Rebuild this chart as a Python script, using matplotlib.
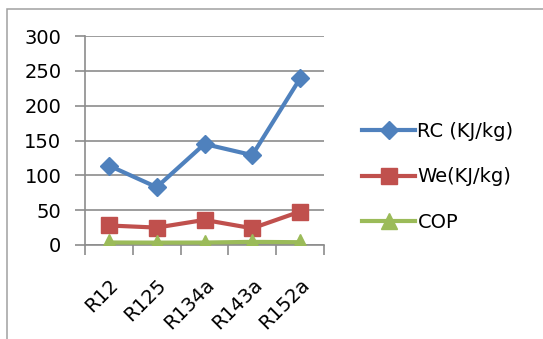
import matplotlib
matplotlib.use("Agg")
import matplotlib.pyplot as plt
from matplotlib.patches import Rectangle
from matplotlib.transforms import ScaledTranslation

refrigerants = ["R12", "R125", "R134a", "R143a", "R152a"]
rc = [114, 83, 145, 129, 239]
we = [28, 25, 36, 24, 48]
cop = [3.6, 3.4, 3.5, 4.5, 4.0]
y_ticks = [0, 50, 100, 150, 200, 250, 300]

plt.rcParams["font.family"] = ["DejaVu Sans"]

W, H = 543, 339
fig = plt.figure(figsize=(W / 100, H / 100), dpi=100)

# outer chart frame
fig.patches.append(Rectangle((7 / W, -0.05), 1.1, 1 - 9 / H + 0.05,
                             transform=fig.transFigure, fill=False,
                             edgecolor="#a0a0a0", linewidth=1.1))

ax = fig.add_axes([85 / W, 94 / H, (324 - 85) / W, (245 - 36) / H])

x = list(range(len(refrigerants)))
ax.plot(x, rc, color="#4F81BD", lw=3, marker="D", ms=9.5, label="RC (KJ/kg)", zorder=3)
ax.plot(x, we, color="#C0504D", lw=3, marker="s", ms=11, label="We(KJ/kg)", zorder=3)
ax.plot(x, cop, color="#9BBB59", lw=3, marker="^", ms=12, label="COP", zorder=3)

ax.set_xlim(-0.5, len(refrigerants) - 0.5)
ax.set_ylim(0, 300)
ax.set_yticks(y_ticks)
ax.set_yticklabels([str(v) for v in y_ticks], fontsize=14)
ax.yaxis.grid(True, color="#8c8c8c", lw=1.2)
ax.set_axisbelow(True)

ax.set_xticks([i - 0.5 for i in range(len(refrigerants) + 1)])
ax.set_xticklabels([])
ax.set_xticks(x, minor=True)
ax.set_xticklabels(refrigerants, minor=True, rotation=45, ha="right",
                   rotation_mode="anchor", fontsize=14)
shift = ScaledTranslation(3 / 100, 0, fig.dpi_scale_trans)
for lbl in ax.get_xticklabels(minor=True):
    lbl.set_transform(lbl.get_transform() + shift)
ax.tick_params(axis="x", which="minor", length=0, pad=22)
ax.tick_params(axis="x", which="major", length=7, width=1.2, color="#8c8c8c")
ax.tick_params(axis="y", length=7, width=1.2, color="#8c8c8c", pad=10)

for s in ["top", "right"]:
    ax.spines[s].set_visible(False)
for s in ["left", "bottom"]:
    ax.spines[s].set_color("#8c8c8c")
    ax.spines[s].set_linewidth(1.2)

fig.legend(loc="center left", bbox_to_anchor=(362 / W, 1 - 177 / H),
           frameon=False, fontsize=14, handlelength=2.75, handletextpad=0.1,
           labelspacing=1.35, borderpad=0, borderaxespad=0)

fig.savefig("out.png", dpi=100)
